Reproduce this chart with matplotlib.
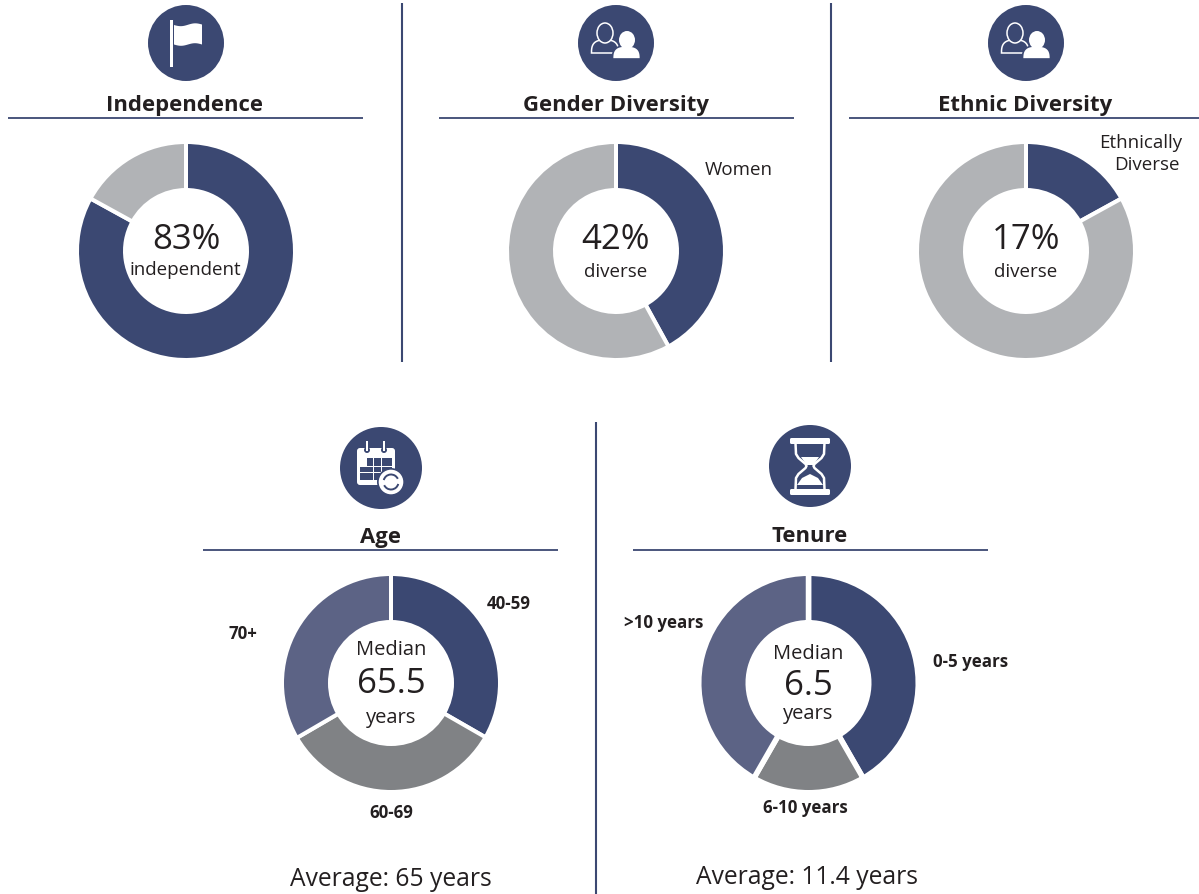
#!/usr/bin/env python3
"""
Board composition summary: five donuts with icons
"""

import matplotlib
matplotlib.use('Agg')
import matplotlib.pyplot as plt
import numpy as np
from matplotlib.patches import Arc, Circle, Ellipse, FancyBboxPatch, Polygon, Rectangle

plt.rcParams['font.family'] = ['Open Sans', 'DejaVu Sans']

W, H = 1199, 894
NAVY = '#3b4872'
SLATE = '#5c6385'
LIGHT = '#b1b3b6'
MID = '#808285'
INK = '#231f20'

independence_values = [83, 17]
gender_values = [42, 58]
ethnic_values = [17, 83]
age_values = [33.3, 33.3, 33.4]
tenure_values = [41.7, 16.6, 41.7]

independence_colors = [NAVY, LIGHT]
gender_colors = [NAVY, LIGHT]
ethnic_colors = [NAVY, LIGHT]
age_colors = [NAVY, MID, SLATE]
tenure_colors = [NAVY, MID, SLATE]

titles = ['Independence', 'Gender Diversity', 'Ethnic Diversity', 'Age', 'Tenure']
age_labels = ['40-59', '60-69', '70+']
tenure_labels = ['0-5 years', '6-10 years', '>10 years']

fig = plt.figure(figsize=(W / 100, H / 100), dpi=100, facecolor='white')


def donut(values, colors, cx, cy, gap=4.0, r=108, hole=62):
    # the white edge eats into both rims, so draw the ring a bit bigger
    ro = r + gap / 2 - 1
    ri = hole - gap / 2 + 1
    pad = ro + 4
    ax = fig.add_axes([(cx - pad) / W, 1 - (cy + pad) / H, 2 * pad / W, 2 * pad / H])
    ax.pie(values, colors=colors, startangle=90, counterclock=False, radius=ro / pad,
           wedgeprops=dict(width=(ro - ri) / pad, edgecolor='white', linewidth=gap * 0.72))
    ax.set_xlim(-1, 1)
    ax.set_ylim(-1, 1)
    ax.set_axis_off()


donut(independence_values, independence_colors, 186, 251)
donut(gender_values, gender_colors, 616, 251)
donut(ethnic_values, ethnic_colors, 1026, 251)
donut(age_values, age_colors, 391, 683)
donut(tenure_values, tenure_colors, 808.5, 683, gap=5.5)

# overlay in pixel coordinates for rules, icons and text
ov = fig.add_axes([0, 0, 1, 1], facecolor='none')
ov.set_xlim(0, W)
ov.set_ylim(H, 0)
ov.set_axis_off()

# dividers and header rules
for x, y0, y1 in [(402, 3, 362), (831, 3, 362), (596, 422, 894)]:
    ov.plot([x, x], [y0, y1], color=NAVY, lw=1.5, solid_capstyle='butt')
for x0, x1, y in [(8, 363, 118), (439, 794, 118), (849, 1199, 118), (203, 558, 550), (633, 988, 550)]:
    ov.plot([x0, x1], [y, y], color=NAVY, lw=1.3, solid_capstyle='butt')


def flag_icon(cx, cy):
    ov.add_patch(Circle((cx, cy), 38, fc=NAVY, ec='none'))
    ov.add_patch(Rectangle((cx - 16, cy - 23), 3, 47, fc='white', ec='none'))
    t = np.linspace(0, 1, 30)
    xs = cx - 12 + 28 * t
    wave = 1.3 * np.sin(2 * np.pi * t)
    top = cy - 18 + wave - 0.5 * t
    bot = cy + 1.5 + wave
    ov.add_patch(Polygon(np.r_[np.c_[xs, top], np.c_[xs[::-1], bot[::-1]]], fc='white', ec='none'))


def shoulders(cx, base, rx, ry):
    t = np.linspace(np.pi, 2 * np.pi, 40)
    # squarer than a plain half ellipse
    return np.c_[cx + rx * np.sign(np.cos(t)) * np.abs(np.cos(t)) ** 0.7,
                 base + ry * np.sign(np.sin(t)) * np.abs(np.sin(t)) ** 0.7]


def people_icon(cx, cy):
    ov.add_patch(Circle((cx, cy), 38, fc=NAVY, ec='none'))
    # outlined person behind
    ov.add_patch(Polygon(shoulders(cx - 11, cy + 10, 13.5, 13), fc='none', ec='white', lw=1.1))
    ov.add_patch(Ellipse((cx - 11, cy - 10), 16, 20, fc=NAVY, ec='white', lw=1.1))
    # solid person in front
    ov.add_patch(Polygon(shoulders(cx + 10.5, cy + 16, 14, 13), fc='white', ec=NAVY, lw=1.2))
    ov.add_patch(Ellipse((cx + 11, cy - 3), 16, 18, fc='white', ec='none'))


def calendar_icon(cx, cy):
    ov.add_patch(Circle((cx, cy), 41, fc=NAVY, ec='none'))
    ov.add_patch(FancyBboxPatch((cx - 24, cy - 20), 38, 37, boxstyle='round,pad=0,rounding_size=3',
                                fc='white', ec='none'))
    for dx in (-14, 3):
        ov.add_patch(Circle((cx + dx, cy - 18), 3, fc=NAVY, ec='none'))
        ov.add_patch(Rectangle((cx + dx - 0.8, cy - 27), 1.6, 10, fc='white', ec='none'))
    # staircase grid
    for x0, y0, w, h in [(-14, -10, 6, 8), (-7, -10, 7, 8), (1, -10, 10, 8),
                         (-21, -1, 6.5, 5), (-14, -1, 6, 5), (-7, -1, 7, 5), (1, -1, 10, 5),
                         (-21, 5, 6.5, 7), (-14, 5, 6, 7), (-7, 5, 7, 7), (1, 5, 6, 7)]:
        ov.add_patch(Rectangle((cx + x0, cy + y0), w, h, fc=NAVY, ec='none'))
    ox, oy = cx + 10, cy + 14
    ov.add_patch(Circle((ox, oy), 14, fc=NAVY, ec='none'))
    ov.add_patch(Circle((ox, oy), 12.3, fc='white', ec='none'))
    ov.add_patch(Arc((ox, oy), 15, 15, theta1=195, theta2=335, ec=NAVY, lw=1.4))
    ov.add_patch(Arc((ox, oy), 15, 15, theta1=15, theta2=155, ec=NAVY, lw=1.4))


def hourglass_icon(cx, cy):
    ov.add_patch(Circle((cx, cy), 41, fc=NAVY, ec='none'))
    for y in (cy - 28, cy + 23):
        ov.add_patch(FancyBboxPatch((cx - 20, y), 40, 6, boxstyle='round,pad=0,rounding_size=1.5',
                                    fc='white', ec='none'))
    ys = np.array([-23, -12, -8, -5, -2, 0, 2, 5, 8, 12, 23])
    half = np.array([14.5, 14, 11.5, 8, 4.5, 3.5, 4.5, 8, 11.5, 14, 14.5])
    ov.plot(cx - half, cy + ys, color='white', lw=1.8)
    ov.plot(cx + half, cy + ys, color='white', lw=1.8)
    # sand
    ov.add_patch(Polygon([(cx - 9, cy - 9), (cx + 9, cy - 9), (cx + 3.5, cy - 1), (cx - 3.5, cy - 1)],
                         fc='white', ec='none'))
    ov.add_patch(Polygon([(cx - 13, cy + 19), (cx + 13, cy + 19), (cx + 8, cy + 12), (cx, cy + 8),
                          (cx - 8, cy + 12)], fc='white', ec='none'))


flag_icon(186, 43)
people_icon(616, 43)
people_icon(1026, 43)
calendar_icon(381, 468)
hourglass_icon(810, 466)


def label(x, y, s, size=13.5, bold=False):
    # +2: Open Sans sits a little high with va='center'
    ov.text(x, y + 2, s, fontsize=size, color=INK, ha='center', va='center',
            fontweight='bold' if bold else 'normal')


# headers
for (x, y), s in zip([(185, 104), (616, 104), (1025, 104), (380, 535), (810, 535)], titles):
    label(x, y, s, size=15.9, bold=True)

# centres of the donuts
label(186, 238, '83%', size=25)
label(185, 268, 'independent')
label(616, 238, '42%', size=25)
label(616, 270, 'diverse')
label(1026, 238, '17%', size=25)
label(1026, 270, 'diverse')
label(391, 648, 'Median', size=14.5)
label(391, 682, '65.5', size=25)
label(391, 716, 'years', size=14.5)
label(808, 652, 'Median', size=14.5)
label(808, 684, '6.5', size=25)
label(808, 712, 'years', size=14.5)

# slice labels
label(739, 168, 'Women')
label(1141, 141, 'Ethnically')
label(1147, 163, 'Diverse')
for (x, y), s in zip([(509, 602), (391, 811), (243, 632)], age_labels):
    label(x, y, s, size=12.2, bold=True)
for (x, y), s in zip([(971, 660), (805, 806), (664, 621)], tenure_labels):
    label(x, y, s, size=12.2, bold=True)

# footers
label(391, 877, 'Average: 65 years', size=17.7)
label(807, 875, 'Average: 11.4 years', size=17.7)

plt.savefig('out.png', dpi=100)
